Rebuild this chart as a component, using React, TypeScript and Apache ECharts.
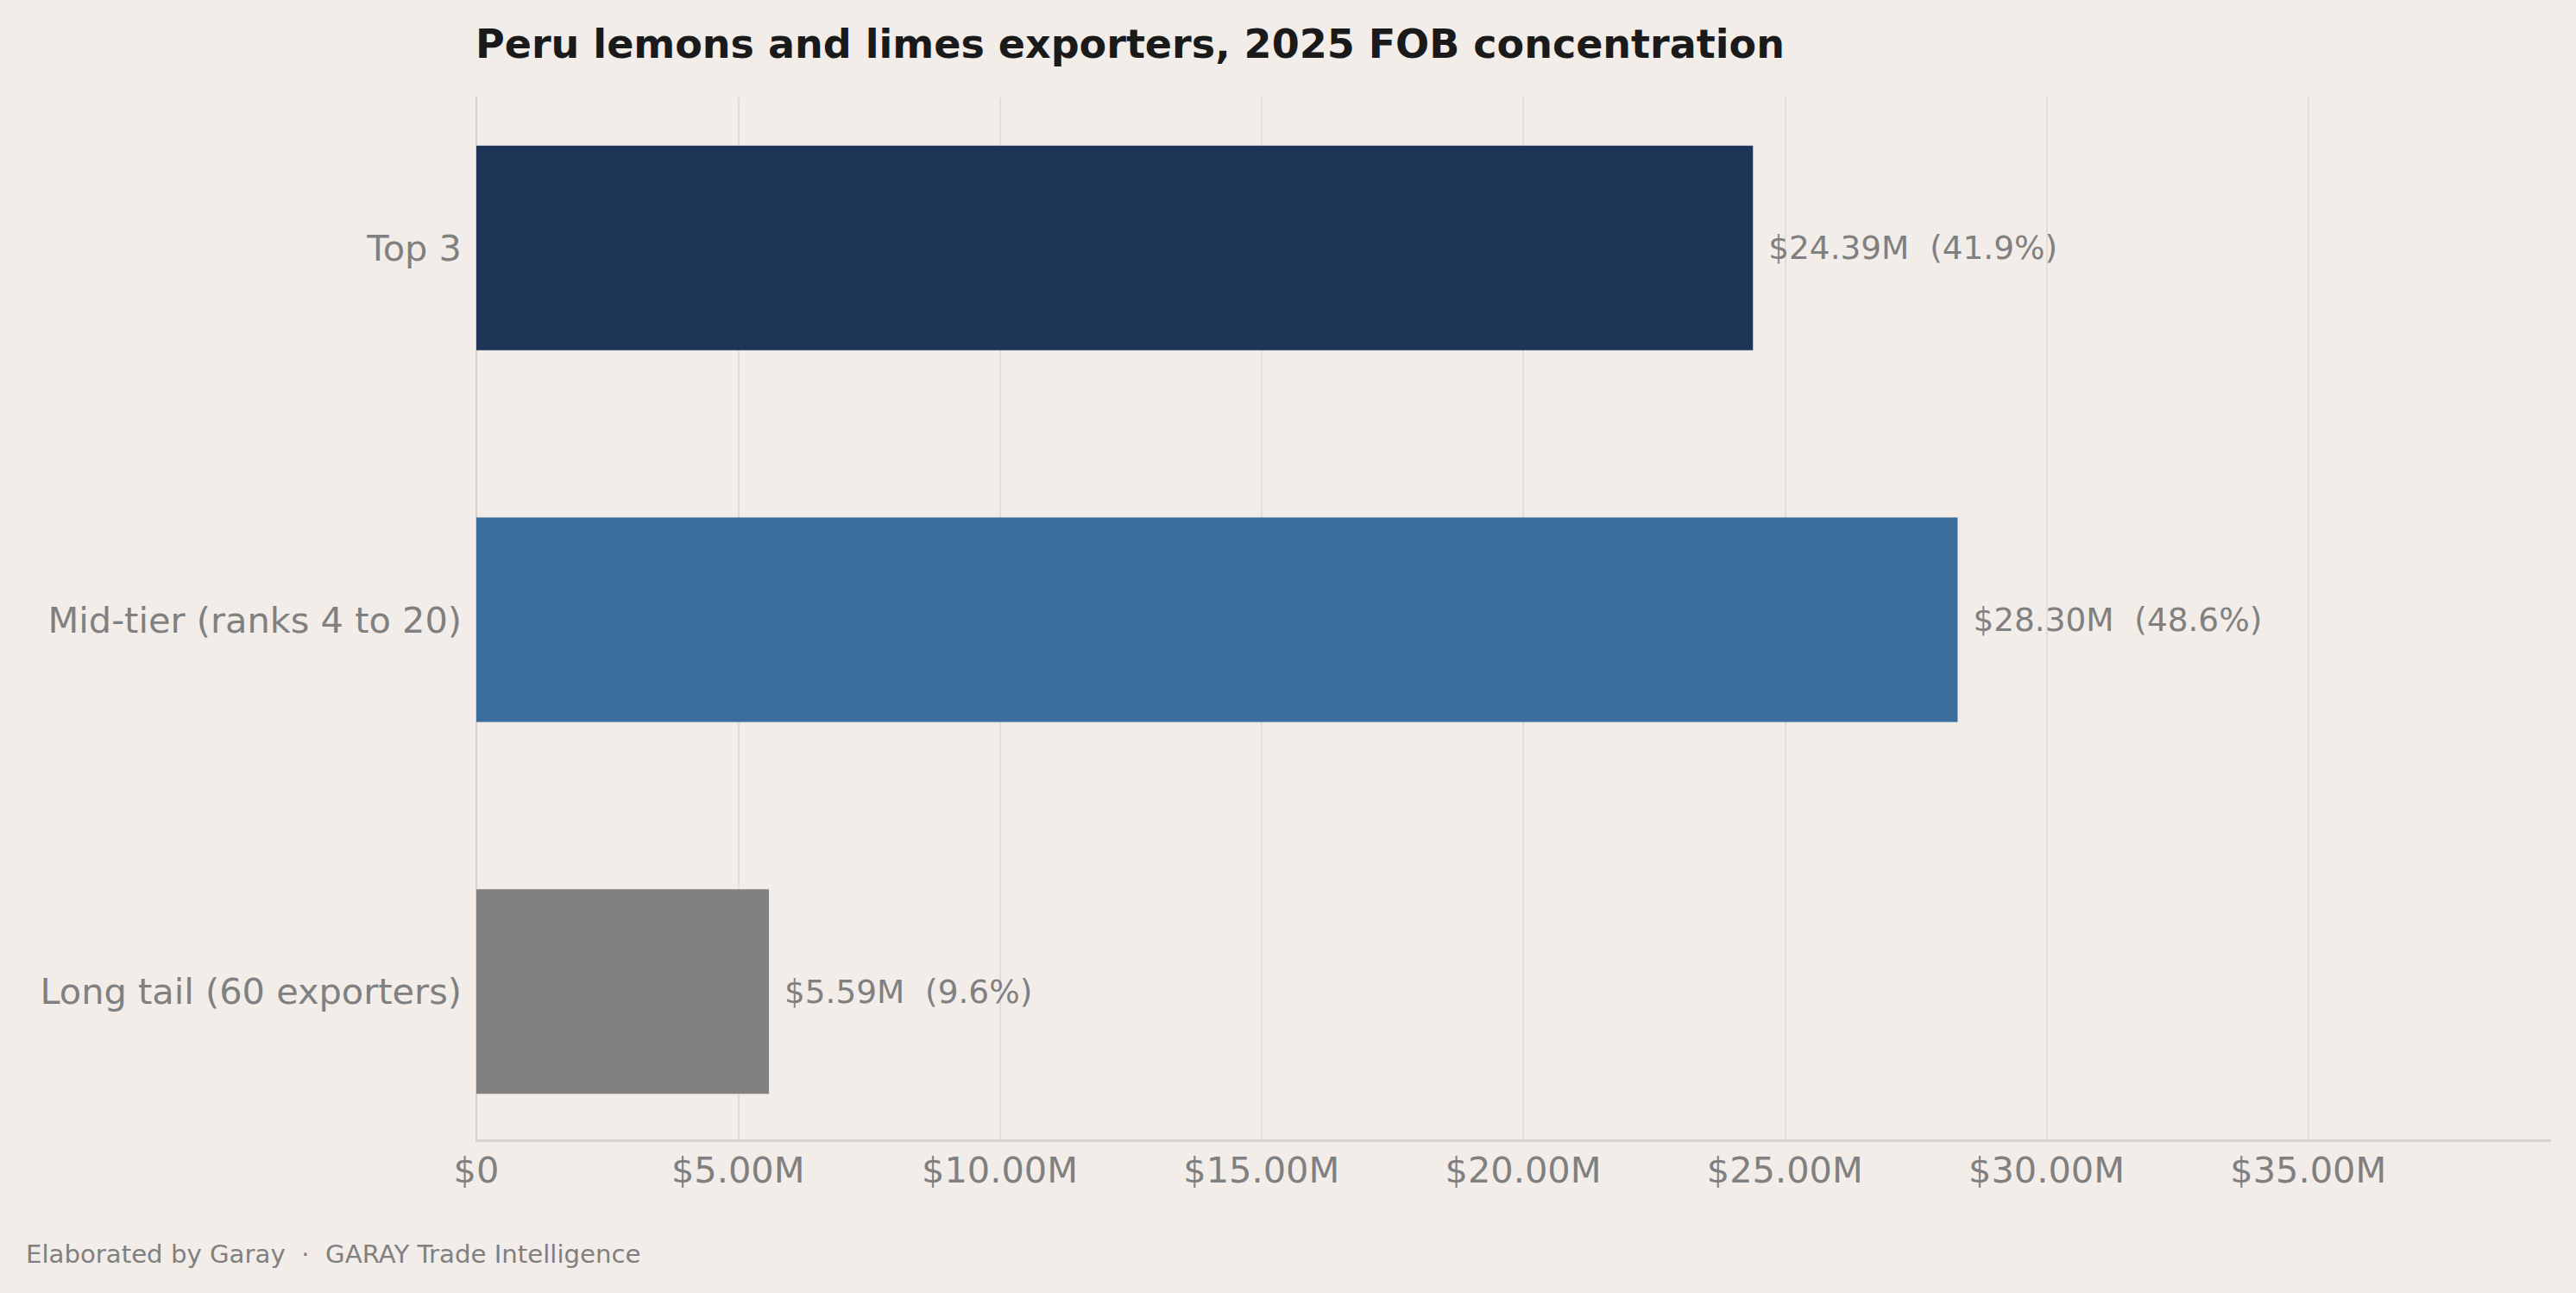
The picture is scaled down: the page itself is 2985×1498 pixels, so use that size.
import { useEffect, useRef } from 'react';
import * as echarts from 'echarts';

const categories = ['Top 3', 'Mid-tier (ranks 4 to 20)', 'Long tail (60 exporters)'];
const fobMillions = [24.39, 28.3, 5.59];
const sharePct = [41.9, 48.6, 9.6];
const barColors = ['#1d3557', '#3b6e9c', '#808080'];
const tickLabels = ['$0', '$5.00M', '$10.00M', '$15.00M', '$20.00M', '$25.00M', '$30.00M', '$35.00M'];

const FONT = "'DejaVu Sans', Verdana, sans-serif";
const GREY = '#808080';
const AXIS_MAX = Math.max(...fobMillions) * 1.4;

const App = () => {
  const chartRef = useRef<HTMLDivElement>(null);

  useEffect(() => {
    if (!chartRef.current) return;
    document.body.style.margin = '0';

    const chart = echarts.init(chartRef.current, null, { renderer: 'svg' });

    const option = {
      animation: false,
      backgroundColor: '#f2ede9',
      textStyle: { fontFamily: FONT },
      title: {
        text: 'Peru lemons and limes exporters, 2025 FOB concentration',
        left: 546,
        top: 23,
        textStyle: { fontFamily: FONT, fontSize: 46, fontWeight: 'bold', color: '#1a1a1a' },
      },
      grid: [
        // frame: spines, gridlines and tick labels
        { left: 552, right: 30, top: 113, bottom: 177 },
        // bars: the category band is wider than the frame
        { left: 552, right: 30, top: 72, bottom: 134 },
      ],
      xAxis: [
        {
          type: 'value',
          gridIndex: 0,
          min: 0,
          max: AXIS_MAX,
          interval: 5,
          axisLine: { show: true, lineStyle: { color: '#d6d4d2', width: 3 } },
          axisTick: { show: false },
          axisLabel: {
            fontSize: 41.5,
            color: GREY,
            fontFamily: FONT,
            margin: 13,
            showMaxLabel: false,
            formatter: (v: number) => tickLabels[Math.round(v / 5)] ?? '',
          },
          splitLine: { show: true, showMaxLine: false, lineStyle: { color: '#dad8d5', width: 1.5 } },
        },
        {
          type: 'value',
          gridIndex: 1,
          min: 0,
          max: AXIS_MAX,
          show: false,
        },
      ],
      yAxis: [
        {
          type: 'value',
          gridIndex: 0,
          min: 0,
          max: 1,
          axisLine: { show: true, lineStyle: { color: '#d6d4d2', width: 2 } },
          axisTick: { show: false },
          axisLabel: { show: false },
          splitLine: { show: false },
        },
        {
          type: 'category',
          gridIndex: 1,
          data: categories,
          inverse: true,
          axisLine: { show: false },
          axisTick: { show: false },
          axisLabel: { fontSize: 41.5, color: GREY, fontFamily: FONT, margin: 17 },
          splitLine: { show: false },
        },
      ],
      series: [
        {
          type: 'bar',
          xAxisIndex: 1,
          yAxisIndex: 1,
          barWidth: 237,
          data: fobMillions.map((v, i) => ({ value: v, itemStyle: { color: barColors[i] } })),
          label: {
            show: true,
            position: 'right',
            distance: 18,
            fontSize: 37.4,
            color: GREY,
            fontFamily: FONT,
            formatter: (p: any) =>
              `$${fobMillions[p.dataIndex].toFixed(2)}M  (${sharePct[p.dataIndex].toFixed(1)}%)`,
          },
        },
      ],
      graphic: [
        {
          type: 'text',
          left: 30,
          top: 1438,
          style: {
            text: 'Elaborated by Garay  ·  GARAY Trade Intelligence',
            fontSize: 29.2,
            fill: GREY,
            fontFamily: FONT,
          },
        },
      ],
    };

    chart.setOption(option);

    const handleResize = () => chart.resize();
    window.addEventListener('resize', handleResize);

    return () => {
      window.removeEventListener('resize', handleResize);
      chart.dispose();
    };
  }, []);

  return (
    <div
      ref={chartRef}
      style={{ position: 'fixed', left: 0, top: 0, width: '100vw', height: '100vh' }}
    />
  );
};

export default App;
